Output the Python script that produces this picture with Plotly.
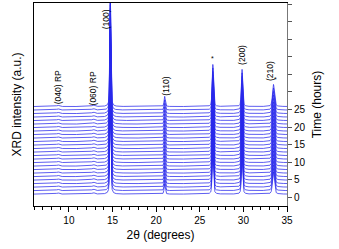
import numpy as np
import plotly.graph_objects as go

# ---- data ----
times = list(range(0, 26))                     # hours, one pattern per hour
baseline_offset = 0.85                         # baseline of the 0 h pattern (hours units)
peak_pos = [8.75, 12.8, 14.75, 20.98, 26.5, 29.85, 33.45]   # 2theta (deg)
peak_height = [0.35, 0.4, 32.0, 2.9, 12.0, 10.6, 6.3]        # in axis units
peak_fwhm = [0.35, 0.35, 0.14, 0.16, 0.18, 0.18, 0.26]
tick_vals = [0, 5, 10, 15, 20, 25, 30, 35, 40, 45, 50, 55]
tick_text = ["0", "5", "10", "15", "20", "25", "", "", "", "", "", ""]

labels = ["(040) RP", "(060) RP", "(100)", "(110)", "(200)", "(210)"]
label_x = [8.77, 12.8, 14.2, 21.1, 29.85, 33.07]
label_y = [31.4, 31.1, 50.6, 31.7, 40.6, 36.0]
star_x = [26.5, 33.7]
star_y = [39.7, 33.7]

tt = np.arange(6.0, 35.0001, 0.01)

def profile(x):
    y = np.zeros_like(x)
    for p, h, w in zip(peak_pos, peak_height, peak_fwhm):
        g = np.exp(-4 * np.log(2) * ((x - p) / w) ** 2)
        l = 1.0 / (1.0 + 4 * ((x - p) / w) ** 2)
        y += h * (0.6 * g + 0.4 * l)
    return y

base = profile(tt)

fig = go.Figure()
for t in times:
    fig.add_trace(go.Scatter(
        x=tt, y=base + t + baseline_offset, mode="lines",
        line=dict(color="rgb(40,40,235)", width=0.75),
        showlegend=False, hoverinfo="skip"))

# dummy trace for right axis
fig.add_trace(go.Scatter(x=[6], y=[0], yaxis="y2", mode="markers",
                         marker=dict(opacity=0), showlegend=False, hoverinfo="skip"))

font = "Liberation Sans, Arial, sans-serif"
for txt, x, y in zip(labels, label_x, label_y):
    fig.add_annotation(x=x, y=y, text=txt, textangle=-90, showarrow=False,
                       font=dict(size=8.5, color="black", family=font))
for x, y in zip(star_x, star_y):
    fig.add_annotation(x=x, y=y, text="*", showarrow=False,
                       font=dict(size=7, color="black", family=font))

yr = [-2.55, 55.4]
fig.update_layout(
    width=339, height=249,
    margin=dict(l=34, r=52, t=3, b=43),
    paper_bgcolor="white", plot_bgcolor="white",
    font=dict(family=font, size=10, color="black"),
    xaxis=dict(range=[6, 35], tickvals=[10, 15, 20, 25, 30, 35], ticks="outside",
               ticklen=5, tickwidth=1, tickcolor="black",
               minor=dict(dtick=1, tick0=0, ticks="outside", ticklen=3, tickcolor="black"),
               showline=True, linecolor="black", linewidth=1, mirror=True,
               showgrid=False, zeroline=False,
               title=dict(text="2θ (degrees)", font=dict(size=12), standoff=5)),
    yaxis=dict(range=yr, showticklabels=False, ticks="", showgrid=False,
               zeroline=False, showline=True, linecolor="black", linewidth=1,
               title=dict(text="XRD intensity (a.u.)", font=dict(size=12), standoff=8)),
    yaxis2=dict(range=yr, overlaying="y", side="right", tickvals=tick_vals,
                ticktext=tick_text, ticks="outside", ticklen=4, tickcolor="#555",
                showline=True, linecolor="#777", linewidth=1, showgrid=False,
                zeroline=False,
                title=dict(text="Time (hours)", font=dict(size=12), standoff=8)),
)

fig.write_html("out.html")
